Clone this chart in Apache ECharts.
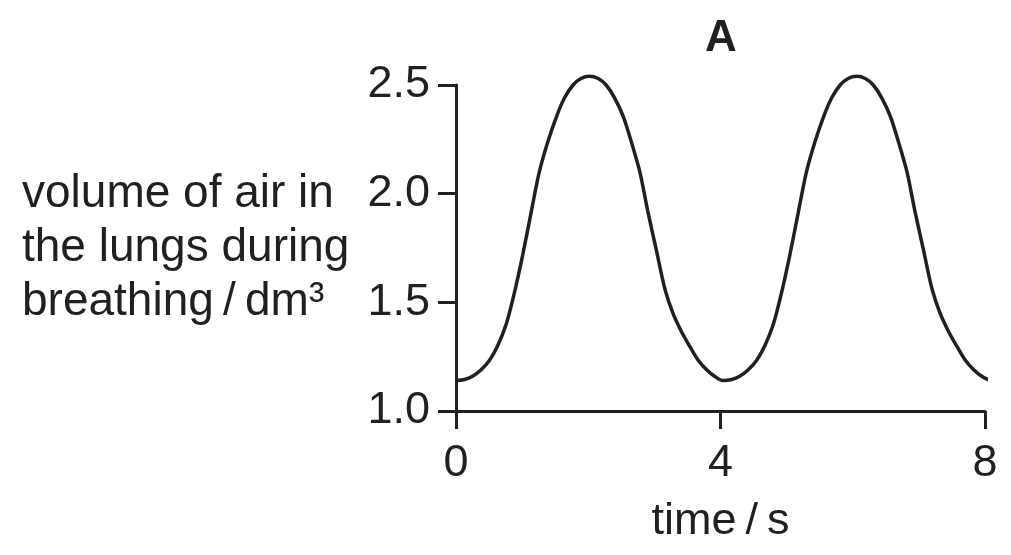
<!DOCTYPE html>
<html>
<head>
<meta charset="utf-8">
<script src="https://cdn.jsdelivr.net/npm/echarts@6/dist/echarts.min.js"></script>
<style>
html, body { margin: 0; padding: 0; background: #fff; }
#lung_chart { width: 1011px; height: 555px; }
</style>
</head>
<body>
<div id="lung_chart"></div>
<script>
// values (time in s, volume in dm3)
const times = [0, 0.13, 0.25, 0.38, 0.51, 0.63, 0.76, 0.88, 1.01, 1.14, 1.26, 1.39, 1.52, 1.64, 1.77, 1.89,
    2.02, 2.15, 2.27, 2.40, 2.53, 2.65, 2.78, 2.90, 3.03, 3.16, 3.28, 3.41, 3.54, 3.66, 3.79, 3.91,
    4.04, 4.17, 4.29, 4.42, 4.55, 4.67, 4.80, 4.92, 5.05, 5.18, 5.30, 5.43, 5.56, 5.68, 5.81, 5.93,
    6.06, 6.19, 6.31, 6.44, 6.57, 6.69, 6.82, 6.94, 7.07, 7.20, 7.32, 7.45, 7.58, 7.70, 7.83, 7.95, 8.08]
const volumes = [1.14, 1.145, 1.16, 1.19, 1.235, 1.30, 1.40, 1.54, 1.72, 1.92, 2.10, 2.24, 2.355, 2.44, 2.50, 2.53,
    2.54, 2.53, 2.50, 2.44, 2.355, 2.24, 2.10, 1.92, 1.74, 1.56, 1.45, 1.365, 1.295, 1.235, 1.19, 1.16,
    1.14, 1.145, 1.16, 1.19, 1.235, 1.30, 1.40, 1.54, 1.72, 1.92, 2.10, 2.24, 2.355, 2.44, 2.50, 2.53,
    2.54, 2.53, 2.50, 2.44, 2.355, 2.24, 2.10, 1.92, 1.74, 1.56, 1.45, 1.365, 1.295, 1.235, 1.19, 1.16, 1.14]
const xTicks = [0, 4, 8]
const yTicks = [1.0, 1.5, 2.0, 2.5]

const ink = '#231f20'
const font = '"Liberation Sans", Arial, sans-serif'

const chart = echarts.init(document.getElementById('lung_chart'))

const option = {
    animation: false,
    title: {
        text: 'A',
        left: 716,
        top: 12,
        textAlign: 'center',
        textStyle: { fontFamily: font, fontSize: 44, fontWeight: 'bold', color: ink }
    },
    grid: { left: 456, right: 26, top: 85, bottom: 144 },
    xAxis: {
        type: 'value',
        min: xTicks[0],
        max: xTicks[xTicks.length - 1],
        interval: 4,
        name: 'time\u2009/\u2009s',
        nameLocation: 'middle',
        nameGap: 88,
        nameTextStyle: { fontFamily: font, fontSize: 45, color: ink },
        axisLine: { lineStyle: { color: ink, width: 3 } },
        axisTick: { length: 18, lineStyle: { color: ink, width: 3 } },
        axisLabel: { margin: 30, fontFamily: font, fontSize: 45, color: ink },
        splitLine: { show: false }
    },
    yAxis: {
        type: 'value',
        min: yTicks[0],
        max: yTicks[yTicks.length - 1],
        interval: 0.5,
        name: 'volume of air in\nthe lungs during\nbreathing\u2009/\u2009dm³',
        nameLocation: 'middle',
        nameRotate: 0,
        nameGap: 434,
        nameTextStyle: { fontFamily: font, fontSize: 46, color: ink, align: 'left', lineHeight: 54 },
        axisLine: { show: true, lineStyle: { color: ink, width: 3 } },
        axisTick: { show: true, length: 18, lineStyle: { color: ink, width: 3 } },
        axisLabel: {
            margin: 26, fontFamily: font, fontSize: 45, color: ink,
            formatter: v => v.toFixed(1)
        },
        splitLine: { show: false }
    },
    series: [
        {
            type: 'line',
            data: times.map((t, i) => [t, volumes[i]]),
            smooth: 0.3,
            showSymbol: false,
            clip: false,
            lineStyle: { color: ink, width: 3.5 }
        }
    ]
}
chart.setOption(option)
</script>
</body>
</html>
